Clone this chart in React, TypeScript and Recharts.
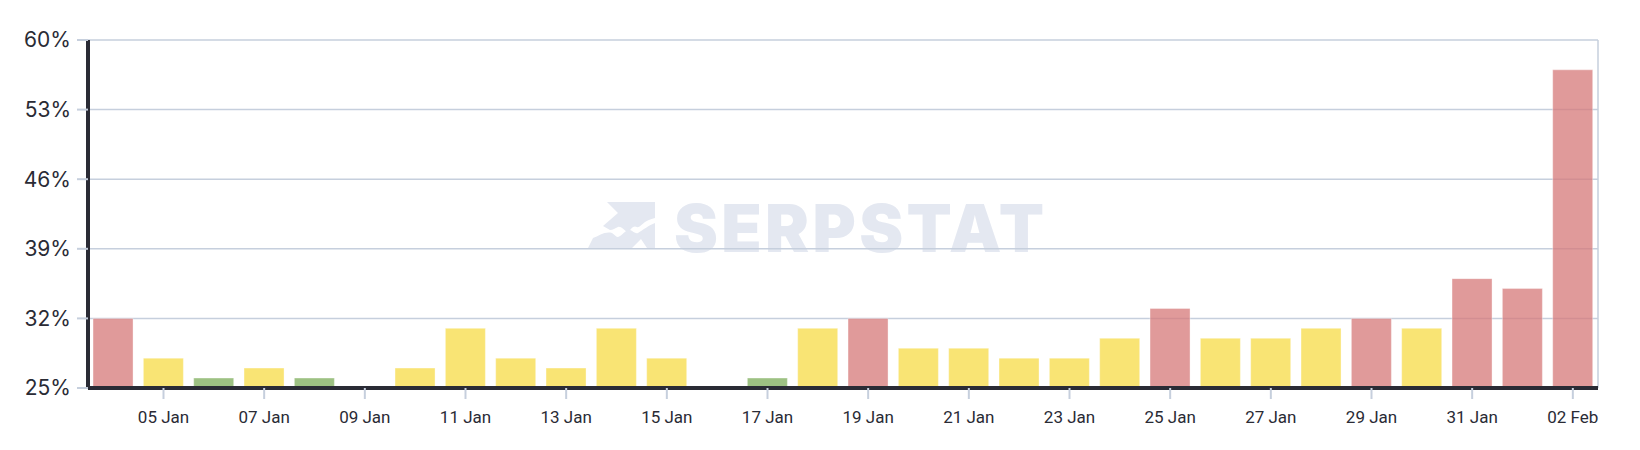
import React from 'react';
import { BarChart, Bar, XAxis, YAxis, CartesianGrid, Cell } from 'recharts';

const days = [
  '04 Jan', '05 Jan', '06 Jan', '07 Jan', '08 Jan', '09 Jan', '10 Jan', '11 Jan',
  '12 Jan', '13 Jan', '14 Jan', '15 Jan', '16 Jan', '17 Jan', '18 Jan', '19 Jan',
  '20 Jan', '21 Jan', '22 Jan', '23 Jan', '24 Jan', '25 Jan', '26 Jan', '27 Jan',
  '28 Jan', '29 Jan', '30 Jan', '31 Jan', '01 Feb', '02 Feb',
];

// share per day, %; null = no bar shown
const shares: (number | null)[] = [
  32, 28, 26, 27, 26, null, 27, 31,
  28, 27, 31, 28, null, 26, 31, 32,
  29, 29, 28, 28, 30, 33, 30, 30,
  31, 32, 31, 36, 35, 57,
];

const yTicks = [25, 32, 39, 46, 53, 60];
const xTicks = days.filter((_, i) => i % 2 === 1);

const data = days.map((day, i) => ({ day, share: shares[i] }));

const GRID = '#c6cfdd';
const INK = '#2a2b35';

function barColor(v: number | null) {
  if (v == null) return 'transparent';
  if (v >= 32) return '#d67878';
  if (v <= 26) return '#7cac5a';
  return '#f7db46';
}

// faint logo + wordmark behind the plot
function Watermark() {
  return (
    <svg width={1640} height={450} style={{ position: 'absolute', left: 0, top: 0 }}>
      <g transform="translate(575,195)" fill="#e4e8f1">
        <path d="M32,7 H80 V23 C75,24 72,26 70,27 C66,30 64,33 62,32 C58,30 56,34 53,38 C49,35 46,31 43,32 C40,33 38,35 35,35 L28,31 L43,18 Z" />
        <path d="M18,43 C24,41 30,36 37,38 C40,40 41,42 43,42 C48,40 51,34 55,35 C58,36 60,39 63,38 C68,35 74,30 80,28 V53 H72 L66,44 L57,53 H13 Z" />
      </g>
      <text
        x={674}
        y={252}
        fontSize={66}
        fontWeight={900}
        fontFamily="Inter, Roboto, sans-serif"
        fill="#e4e8f1"
        textLength={370}
        lengthAdjust="spacing"
      >
        SERPSTAT
      </text>
    </svg>
  );
}

export default function App() {
  return (
    <div style={{ position: 'absolute', left: 0, top: 0, width: 1640, height: 450, background: '#fff' }}>
      <Watermark />
      <BarChart
        width={1640}
        height={450}
        data={data}
        margin={{ top: 40, right: 42, left: 0, bottom: 22 }}
        barCategoryGap="10%"
        style={{ position: 'relative' }}
      >
        <CartesianGrid
          stroke={GRID}
          strokeWidth={1.5}
          vertical
          verticalCoordinatesGenerator={({ offset }: any) => [offset.left + offset.width]}
        />
        <XAxis
          dataKey="day"
          ticks={xTicks}
          interval={0}
          height={40}
          tickSize={11}
          tickMargin={12}
          axisLine={{ stroke: INK, strokeWidth: 4 }}
          tickLine={{ stroke: GRID, strokeWidth: 2 }}
          tick={{ fill: INK, fontSize: 17, fontFamily: 'Roboto, sans-serif' }}
        />
        <YAxis
          width={88}
          domain={[25, 60]}
          ticks={yTicks}
          tickFormatter={(v: number) => `${v}%`}
          tickSize={11}
          tickMargin={6}
          axisLine={{ stroke: INK, strokeWidth: 4 }}
          tickLine={{ stroke: GRID, strokeWidth: 2 }}
          tick={{ fill: INK, fontSize: 21, fontFamily: 'Inter, sans-serif' }}
        />
        <Bar
          dataKey="share"
          isAnimationActive={false}
          fillOpacity={0.75}
          stroke="#ffffff"
          strokeOpacity={0.35}
          strokeWidth={1}
        >
          {data.map((d) => (
            <Cell key={d.day} fill={barColor(d.share)} />
          ))}
        </Bar>
      </BarChart>
    </div>
  );
}
